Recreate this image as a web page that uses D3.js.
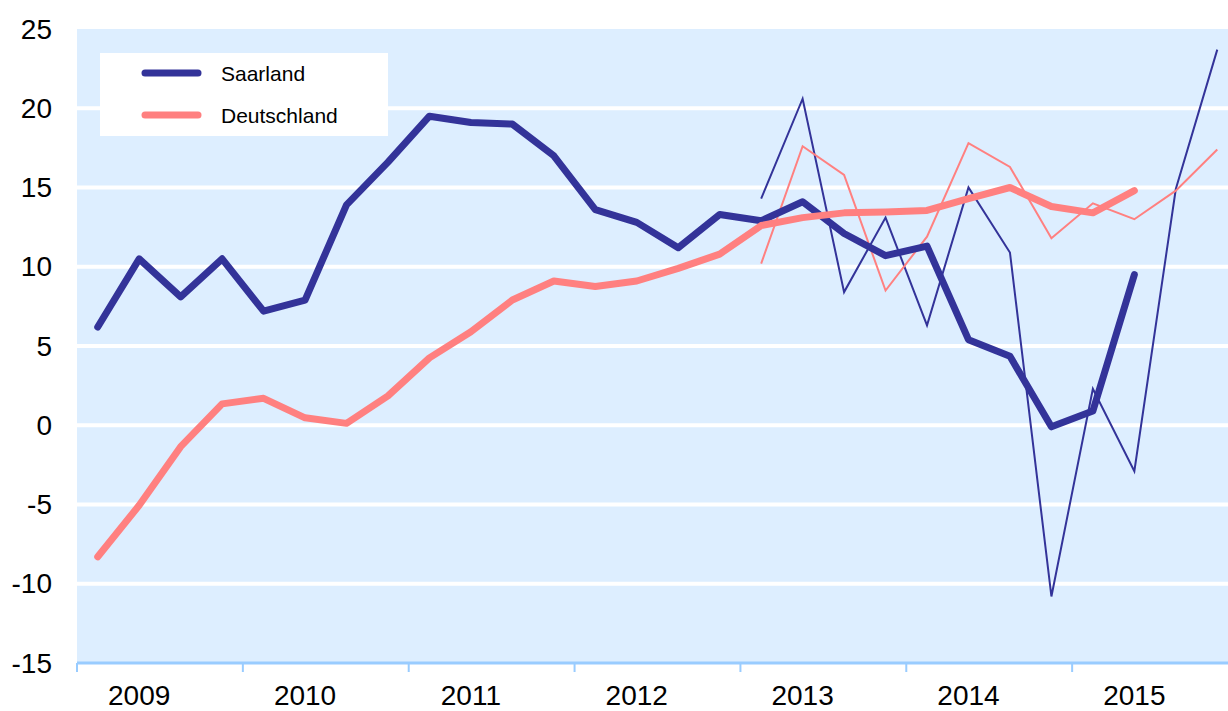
<!DOCTYPE html>
<html>
<head>
<meta charset="utf-8">
<script src="https://cdn.jsdelivr.net/npm/d3@7"></script>
<style>
  body { margin: 0; background: #fff; }
  svg { display: block; font-family: "Liberation Sans", Arial, sans-serif; }
</style>
</head>
<body>
<svg></svg>
<script>
let width = 1228, height = 711;

// quarters 2009 Q1 .. 2015 Q4
let years = ["2009", "2010", "2011", "2012", "2013", "2014", "2015"];
let quarters = [];
years.forEach(y => { for (let q = 1; q <= 4; q++) quarters.push(y + "Q" + q); });

let yTicks = [-15, -10, -5, 0, 5, 10, 15, 20, 25];

// thick lines (2009 Q1 .. 2015 Q2)
let saarland = [6.2, 10.5, 8.1, 10.5, 7.2, 7.9, 13.9, 16.6, 19.5, 19.1, 19.0, 17.0, 13.6, 12.8, 11.2, 13.3,
    12.9, 14.1, 12.1, 10.7, 11.3, 5.4, 4.35, -0.1, 0.9, 9.5];
let deutschland = [-8.3, -5.05, -1.35, 1.35, 1.7, 0.47, 0.12, 1.85, 4.25, 5.9, 7.9, 9.1, 8.75, 9.1, 9.9, 10.8,
    12.6, 13.1, 13.4, 13.45, 13.55, 14.3, 15.0, 13.8, 13.4, 14.8];

// thin lines (2013 Q1 .. 2015 Q4)
let saarlandThin = [14.3, 20.6, 8.4, 13.1, 6.3, 15.0, 10.9, -10.8, 2.3, -2.9, 14.9, 23.7];
let deutschlandThin = [10.2, 17.6, 15.8, 8.5, 11.9, 17.8, 16.3, 11.8, 14.0, 13.0, 14.8, 17.4];
let thinStart = 16;

let blue = "#333399", pink = "#FF8080";

let svg = d3.select("svg")
    .attr("width", width)
    .attr("height", height);

let plotLeft = 77, plotRight = 1238, plotTop = 29, plotBottom = 663;

let x = d3.scaleBand()
    .domain(quarters)
    .range([plotLeft, plotRight])
    .padding(0);

let xYear = d3.scaleBand()
    .domain(years)
    .range([plotLeft, plotRight]);

let y = d3.scaleLinear()
    .domain([-15, 25])
    .range([plotBottom, plotTop]);

// background
svg.append("rect")
    .attr("x", plotLeft)
    .attr("y", plotTop)
    .attr("width", plotRight - plotLeft)
    .attr("height", plotBottom - plotTop)
    .attr("fill", "#DDEEFF");

// white gridlines
svg.append("g")
    .selectAll("line")
    .data(yTicks.filter(d => d > -15 && d < 25))
    .enter()
    .append("line")
    .attr("x1", plotLeft)
    .attr("x2", plotRight)
    .attr("y1", d => y(d))
    .attr("y2", d => y(d))
    .attr("stroke", "#fff")
    .attr("stroke-width", 4);

// y labels
svg.append("g")
    .selectAll("text")
    .data(yTicks)
    .enter()
    .append("text")
    .attr("x", 52)
    .attr("y", d => y(d))
    .attr("text-anchor", "end")
    .attr("dominant-baseline", "central")
    .style("font-size", "28px")
    .attr("fill", "#000")
    .text(d => d);

// bottom axis: line, year ticks, labels under the 2nd quarter
svg.append("line")
    .attr("x1", plotLeft)
    .attr("x2", plotRight)
    .attr("y1", plotBottom)
    .attr("y2", plotBottom)
    .attr("stroke", "#99CCFF")
    .attr("stroke-width", 3);

svg.append("g")
    .selectAll("line")
    .data(years)
    .enter()
    .append("line")
    .attr("x1", d => xYear(d))
    .attr("x2", d => xYear(d))
    .attr("y1", plotBottom)
    .attr("y2", plotBottom + 9)
    .attr("stroke", "#99CCFF")
    .attr("stroke-width", 2);

svg.append("g")
    .selectAll("text")
    .data(years)
    .enter()
    .append("text")
    .attr("x", d => x(d + "Q2") + x.bandwidth() / 2)
    .attr("y", plotBottom + 42)
    .attr("text-anchor", "middle")
    .style("font-size", "28px")
    .attr("fill", "#000")
    .text(d => d);

let line = d3.line()
    .x(d => x(d.q) + x.bandwidth() / 2)
    .y(d => y(d.v));

function series(vals, start) {
    return vals.map((v, i) => ({ q: quarters[start + i], v: v }));
}

// thin lines
[[saarlandThin, blue], [deutschlandThin, pink]].forEach(([vals, col]) => {
    svg.append("path")
        .datum(series(vals, thinStart))
        .attr("fill", "none")
        .attr("stroke", col)
        .attr("stroke-width", 2)
        .attr("stroke-linejoin", "miter")
        .attr("d", line);
});

// thick lines
[[saarland, blue], [deutschland, pink]].forEach(([vals, col]) => {
    svg.append("path")
        .datum(series(vals, 0))
        .attr("fill", "none")
        .attr("stroke", col)
        .attr("stroke-width", 7)
        .attr("stroke-linejoin", "round")
        .attr("stroke-linecap", "round")
        .attr("d", line);
});

// legend
let legend = svg.append("g");
legend.append("rect")
    .attr("x", 100)
    .attr("y", 53)
    .attr("width", 288)
    .attr("height", 83)
    .attr("fill", "#fff");

[["Saarland", blue, 73], ["Deutschland", pink, 115]].forEach(([name, col, ly]) => {
    legend.append("line")
        .attr("x1", 145)
        .attr("x2", 198)
        .attr("y1", ly)
        .attr("y2", ly)
        .attr("stroke", col)
        .attr("stroke-width", 7)
        .attr("stroke-linecap", "round");
    legend.append("text")
        .attr("x", 221)
        .attr("y", ly)
        .attr("dominant-baseline", "central")
        .style("font-size", "21px")
        .attr("fill", "#000")
        .text(name);
});
</script>
</body>
</html>
